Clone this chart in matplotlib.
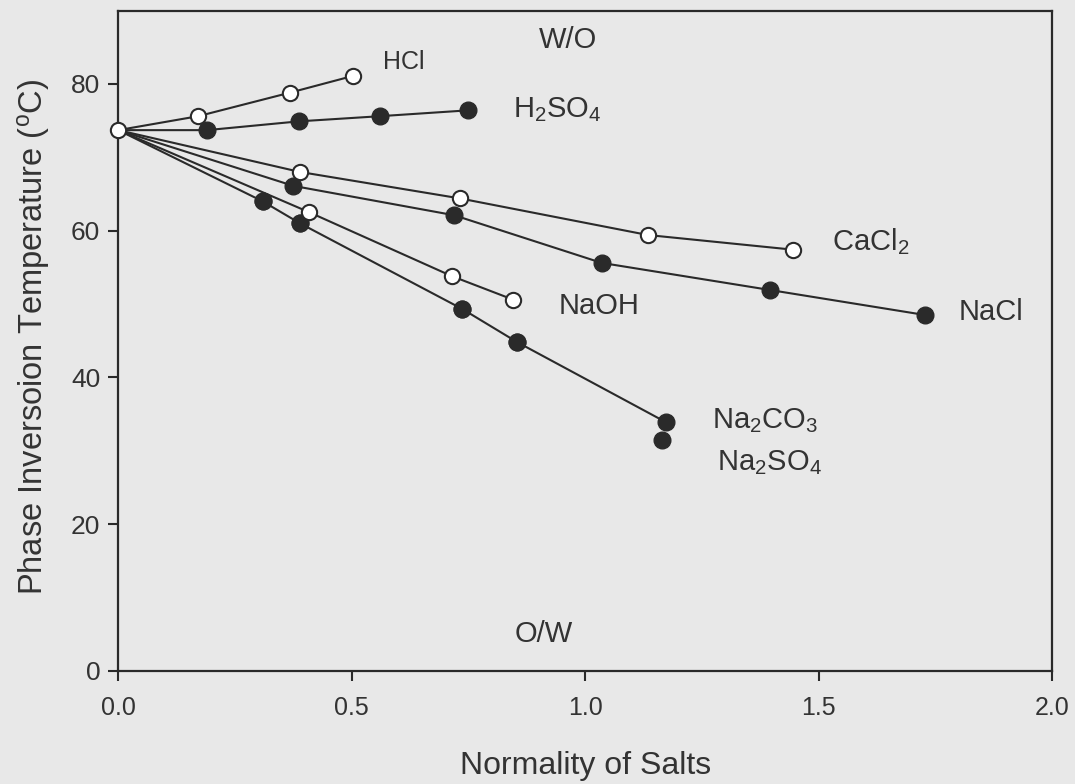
import matplotlib
matplotlib.use("Agg")
import matplotlib.pyplot as plt

plt.rcParams['font.family'] = ['Liberation Sans', 'DejaVu Sans']
plt.rcParams['mathtext.default'] = 'regular'

# ---- data (normality, phase inversion temperature in C) ----
hcl_x = [0.0, 0.171, 0.367, 0.503]
hcl_y = [73.7, 75.6, 78.8, 81.1]

h2so4_x = [0.0, 0.190, 0.387, 0.560, 0.749]
h2so4_y = [73.7, 73.7, 74.9, 75.6, 76.4]

cacl2_x = [0.0, 0.389, 0.731, 1.134, 1.445]
cacl2_y = [73.7, 68.0, 64.4, 59.4, 57.4]

nacl_x = [0.0, 0.375, 0.719, 1.035, 1.396, 1.727]
nacl_y = [73.7, 66.1, 62.1, 55.6, 51.9, 48.5]

naoh_x = [0.0, 0.409, 0.714, 0.845]
naoh_y = [73.7, 62.5, 53.8, 50.6]

na2co3_x = [0.0, 0.309, 0.389, 0.737, 0.854, 1.172]
na2co3_y = [73.7, 64.0, 61.0, 49.3, 44.8, 33.9]

na2so4_x = [0.0, 0.309, 0.389, 0.737, 0.854, 1.165]
na2so4_y = [73.7, 64.0, 61.0, 49.3, 44.8, 31.4]

x_ticks = [0.0, 0.5, 1.0, 1.5, 2.0]
x_ticklabels = ['0.0', '0.5', '1.0', '1.5', '2.0']
y_ticks = [0, 20, 40, 60, 80]
y_ticklabels = ['0', '20', '40', '60', '80']

BG = '#e8e8e8'
INK = '#2a2a2a'
TXT = '#333333'

fig = plt.figure(figsize=(10.75, 7.84), dpi=100, facecolor=BG)
ax = fig.add_axes([0.110, 0.1445, 0.869, 0.842])
ax.set_facecolor(BG)

open_series = [(hcl_x, hcl_y), (cacl2_x, cacl2_y), (naoh_x, naoh_y)]
filled_lines = [(h2so4_x, h2so4_y), (nacl_x, nacl_y), (na2co3_x, na2co3_y)]
filled_series = filled_lines + [(na2so4_x, na2so4_y)]

for xs, ys in open_series + filled_lines:
    ax.plot(xs, ys, '-', color=INK, lw=1.5, zorder=2)

for xs, ys in filled_series:
    ax.plot(xs[1:], ys[1:], 'o', ms=12, mfc=INK, mec=INK, mew=1.0, zorder=3)
for xs, ys in open_series:
    ax.plot(xs[1:], ys[1:], 'o', ms=11, mfc='white', mec=INK, mew=1.5, zorder=4)
# shared starting point
ax.plot(hcl_x[:1], hcl_y[:1], 'o', ms=11, mfc='white', mec=INK, mew=1.5, zorder=5,
        clip_on=False)

fs = 21
ax.text(0.567, 82.1, 'HCl', fontsize=18, color=TXT, ha='left', va='baseline')
ax.text(0.845, 75.5, r'H$_2$SO$_4$', fontsize=fs, color=TXT, ha='left', va='baseline')
ax.text(0.962, 84.9, 'W/O', fontsize=fs, color=TXT, ha='center', va='baseline')
ax.text(1.528, 57.3, r'CaCl$_2$', fontsize=fs, color=TXT, ha='left', va='baseline')
ax.text(1.799, 47.8, 'NaCl', fontsize=fs, color=TXT, ha='left', va='baseline')
ax.text(0.942, 48.7, 'NaOH', fontsize=fs, color=TXT, ha='left', va='baseline')
ax.text(1.272, 33.1, r'Na$_2$CO$_3$', fontsize=fs, color=TXT, ha='left', va='baseline')
ax.text(1.282, 27.4, r'Na$_2$SO$_4$', fontsize=fs, color=TXT, ha='left', va='baseline')
ax.text(0.912, 3.9, 'O/W', fontsize=fs, color=TXT, ha='center', va='baseline')

ax.set_xlim(0, 2.0)
ax.set_ylim(0, 90)
ax.set_xticks(x_ticks)
ax.set_xticklabels(x_ticklabels)
ax.set_yticks(y_ticks)
ax.set_yticklabels(y_ticklabels)
ax.tick_params(axis='both', direction='out', length=7, width=1.5, colors=INK,
               labelcolor=TXT)
ax.tick_params(axis='x', pad=11, labelsize=18)
ax.tick_params(axis='y', pad=6, labelsize=19)
for s in ax.spines.values():
    s.set_color(INK)
    s.set_linewidth(1.6)

ax.set_xlabel('Normality of Salts', fontsize=23, color=TXT)
ax.set_ylabel(r'Phase Inversoion Temperature ($^o$C)', fontsize=23.5, color=TXT)
ax.xaxis.set_label_coords(0.5, -0.144)
ax.xaxis.label.set_va('center')
ax.yaxis.set_label_coords(-0.091, 0.505)
ax.yaxis.label.set_va('center')

fig.savefig('out.png', dpi=100, facecolor=BG)
